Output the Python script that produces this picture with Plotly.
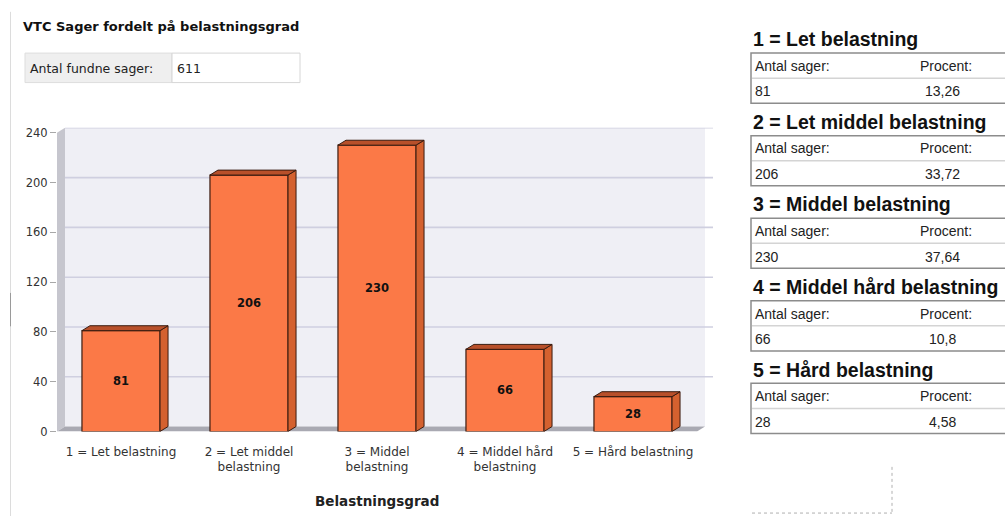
import plotly.graph_objects as go

# ---- data -------------------------------------------------------------
categories = [
    "1 = Let belastning",
    "2 = Let middel<br>belastning",
    "3 = Middel<br>belastning",
    "4 = Middel hård<br>belastning",
    "5 = Hård belastning",
]
headings = [
    "1 = Let belastning",
    "2 = Let middel belastning",
    "3 = Middel belastning",
    "4 = Middel hård belastning",
    "5 = Hård belastning",
]
counts = [81, 206, 230, 66, 28]
percents = ["13,26", "33,72", "37,64", "10,8", "4,58"]
total_cases = 611
y_ticks = [0, 40, 80, 120, 160, 200, 240]

# ---- page geometry ----------------------------------------------------
W, H = 1005, 523


def xp(px):
    return px / W


def yp(py):
    return 1 - py / H


# plot area (front plane) in pixels
X0, X1 = 57, 713
Y0 = 437
PX_PER_UNIT = (437 - 133) / 240.0
Y_MAX = 244
Y_TOP = Y0 - Y_MAX * PX_PER_UNIT
X_RANGE = [-0.5, 4.625]
PX_PER_CAT = (X1 - X0) / (X_RANGE[1] - X_RANGE[0])

# 3D depth offset
DX_PX, DY_PX = 8, 5
dxd = DX_PX / PX_PER_CAT
dyd = DY_PX / PX_PER_UNIT
BAR_W = 0.61

FONT = "DejaVu Sans, Verdana, sans-serif"
FONT_R = "Liberation Sans, Arial, sans-serif"
ORANGE = "#fb7947"
SIDE = "#d4612f"
TOP = "#b8502a"
EDGE = "#3a1c10"

fig = go.Figure()

fig.add_trace(go.Bar(
    x=list(range(len(counts))),
    y=counts,
    width=BAR_W,
    marker=dict(color=ORANGE, line=dict(color=EDGE, width=1.2)),
    text=[f"<b>{v}</b>" for v in counts],
    textposition="inside",
    insidetextanchor="middle",
    textfont=dict(family=FONT, size=11.5, color="#111111"),
    textangle=0,
    hoverinfo="skip",
))

shapes = []

# back wall
shapes.append(dict(type="rect", xref="x", yref="y", layer="below",
                   x0=X_RANGE[0] + dxd, x1=4.5 + dxd, y0=dyd, y1=Y_MAX,
                   fillcolor="#efeff5", line=dict(width=0)))
# left wall
shapes.append(dict(type="path", xref="x", yref="y", layer="below",
                   path=(f"M {X_RANGE[0]},0 L {X_RANGE[0]},240 "
                         f"L {X_RANGE[0] + dxd},{240 + dyd} L {X_RANGE[0] + dxd},{dyd} Z"),
                   fillcolor="#c6c6ce", line=dict(width=0)))
# floor
shapes.append(dict(type="path", xref="x", yref="y", layer="below",
                   path=(f"M {X_RANGE[0]},0 L 4.5,0 L {4.5 + dxd},{dyd} "
                         f"L {X_RANGE[0] + dxd},{dyd} Z"),
                   fillcolor="#a9a9b2", line=dict(width=0)))
# gridlines on the back wall
for v in y_ticks[1:]:
    shapes.append(dict(type="line", xref="x", yref="y", layer="below",
                       x0=X_RANGE[0] + dxd, x1=X_RANGE[1], y0=v + dyd, y1=v + dyd,
                       line=dict(color="#cfcfe0", width=1.6)))

# side and top faces of each bar
for i, v in enumerate(counts):
    xl, xr = i - BAR_W / 2, i + BAR_W / 2
    shapes.append(dict(type="path", xref="x", yref="y", layer="above",
                       path=(f"M {xr},0 L {xr + dxd},{dyd} L {xr + dxd},{v + dyd} "
                             f"L {xr},{v} Z"),
                       fillcolor=SIDE, line=dict(color=EDGE, width=1)))
    shapes.append(dict(type="path", xref="x", yref="y", layer="above",
                       path=(f"M {xl},{v} L {xl + dxd},{v + dyd} L {xr + dxd},{v + dyd} "
                             f"L {xr},{v} Z"),
                       fillcolor=TOP, line=dict(color=EDGE, width=1)))

annotations = []

# page left border
shapes.append(dict(type="line", xref="paper", yref="paper",
                   x0=xp(10.5), x1=xp(10.5), y0=yp(10), y1=yp(523),
                   line=dict(color="#dcdcdc", width=1)))
shapes.append(dict(type="line", xref="paper", yref="paper",
                   x0=xp(10.5), x1=xp(10.5), y0=yp(296), y1=yp(330),
                   line=dict(color="#9a9a9a", width=1)))

# title and count box
annotations.append(dict(xref="paper", yref="paper", x=xp(21), y=yp(25),
                        xanchor="left", yanchor="middle", showarrow=False,
                        text="<b>VTC Sager fordelt på belastningsgrad</b>",
                        font=dict(family=FONT, size=13, color="#111111")))
shapes.append(dict(type="rect", xref="paper", yref="paper",
                   x0=xp(25), x1=xp(172), y0=yp(52), y1=yp(82),
                   fillcolor="#efefef", line=dict(color="#dddddd", width=1)))
shapes.append(dict(type="rect", xref="paper", yref="paper",
                   x0=xp(172), x1=xp(300), y0=yp(52), y1=yp(82),
                   fillcolor="#ffffff", line=dict(color="#d6d6d6", width=1)))
annotations.append(dict(xref="paper", yref="paper", x=xp(28), y=yp(68),
                        xanchor="left", yanchor="middle", showarrow=False,
                        text="Antal fundne sager:",
                        font=dict(family=FONT, size=12.5, color="#222222")))
annotations.append(dict(xref="paper", yref="paper", x=xp(175), y=yp(68),
                        xanchor="left", yanchor="middle", showarrow=False,
                        text=str(total_cases),
                        font=dict(family=FONT, size=12.5, color="#222222")))

# x axis title
annotations.append(dict(xref="x", yref="paper", x=2, y=yp(508),
                        xanchor="center", yanchor="middle", showarrow=False,
                        text="<b>Belastningsgrad</b>",
                        font=dict(family=FONT, size=13.5, color="#222222")))

# summary tables on the right
for k, (name, n, pct) in enumerate(zip(headings, counts, percents)):
    off = 84 * k
    annotations.append(dict(xref="paper", yref="paper", x=xp(751), y=yp(38 + off),
                            xanchor="left", yanchor="middle", showarrow=False,
                            text=f"<b>{name}</b>",
                            font=dict(family=FONT_R, size=19.5, color="#111111")))
    shapes.append(dict(type="rect", xref="paper", yref="paper",
                       x0=xp(751), x1=xp(1012), y0=yp(52 + off), y1=yp(103 + off),
                       fillcolor="#ffffff", line=dict(color="#8c8c8c", width=1.5)))
    shapes.append(dict(type="line", xref="paper", yref="paper",
                       x0=xp(752), x1=xp(1010), y0=yp(77.5 + off), y1=yp(77.5 + off),
                       line=dict(color="#d4d4d4", width=1.5)))
    annotations.append(dict(xref="paper", yref="paper", x=xp(753), y=yp(65 + off),
                            xanchor="left", yanchor="middle", showarrow=False,
                            text="Antal sager:",
                            font=dict(family=FONT_R, size=14, color="#222222")))
    annotations.append(dict(xref="paper", yref="paper", x=xp(946), y=yp(65 + off),
                            xanchor="center", yanchor="middle", showarrow=False,
                            text="Procent:",
                            font=dict(family=FONT_R, size=14, color="#222222")))
    annotations.append(dict(xref="paper", yref="paper", x=xp(753), y=yp(91 + off),
                            xanchor="left", yanchor="middle", showarrow=False,
                            text=str(n),
                            font=dict(family=FONT_R, size=14, color="#222222")))
    annotations.append(dict(xref="paper", yref="paper", x=xp(942), y=yp(91 + off),
                            xanchor="center", yanchor="middle", showarrow=False,
                            text=pct,
                            font=dict(family=FONT_R, size=14, color="#222222")))

# dotted corner outline at the bottom right
shapes.append(dict(type="line", xref="paper", yref="paper",
                   x0=xp(752), x1=xp(892), y0=yp(520), y1=yp(520),
                   line=dict(color="#b0b0b0", width=1, dash="dot")))
shapes.append(dict(type="line", xref="paper", yref="paper",
                   x0=xp(892), x1=xp(892), y0=yp(473), y1=yp(520),
                   line=dict(color="#b0b0b0", width=1, dash="dot")))

fig.update_layout(
    width=W, height=H, autosize=False,
    margin=dict(l=0, r=0, t=0, b=0),
    paper_bgcolor="#ffffff", plot_bgcolor="rgba(0,0,0,0)",
    showlegend=False,
    bargap=0.39,
    shapes=shapes,
    annotations=annotations,
    xaxis=dict(
        domain=[xp(X0), xp(X1)], range=X_RANGE,
        tickvals=list(range(len(categories))), ticktext=categories,
        ticks="outside", ticklen=9, tickcolor="rgba(0,0,0,0)",
        tickfont=dict(family=FONT, size=12, color="#333333"),
        showgrid=False, zeroline=False, showline=False, fixedrange=True,
    ),
    yaxis=dict(
        domain=[yp(Y0), yp(Y_TOP)], range=[0, Y_MAX],
        tickvals=y_ticks,
        ticks="outside", ticklen=6, tickcolor="#a8a8a8", tickwidth=1,
        tickfont=dict(family=FONT, size=11.5, color="#333333"),
        showgrid=False, zeroline=False, showline=False, fixedrange=True,
    ),
)

fig.write_html("out.html", config={"displayModeBar": False})
